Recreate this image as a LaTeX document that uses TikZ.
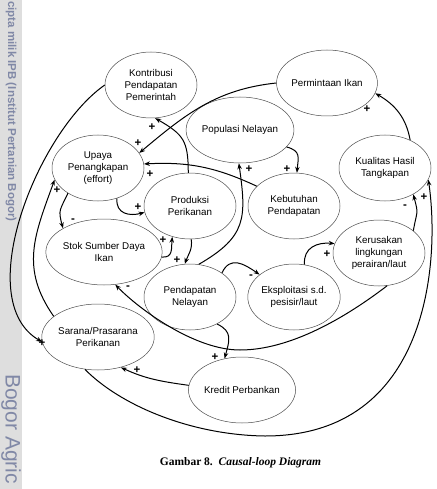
\documentclass[tikz,border=0pt]{standalone}
\usepackage{fontspec}
\setmainfont{Liberation Sans}
\newfontfamily\serifcap{Liberation Serif}
\usetikzlibrary{shapes.geometric,arrows.meta}
\definecolor{wmgray}{RGB}{222,222,222}
\definecolor{wmtext}{RGB}{128,136,166}

\begin{document}
\begin{tikzpicture}[x=1pt, y=1pt,
    var/.style={ellipse, draw=black!70, line width=0.5pt, minimum width=92pt, minimum height=66pt,
      inner sep=0pt, align=center, font=\fontsize{9.8}{11.7}\selectfont},
    link/.style={line width=1pt, -{Stealth[length=6pt, width=4.5pt]}},
    sgn/.style={inner sep=0pt, font=\bfseries\fontsize{11.5}{11.5}\selectfont}]
  \useasboundingbox (0,0) rectangle (436,-489);
  % watermark band
  \fill[wmgray] (0,0) rectangle (22,-489);
  \node[rotate=-90, anchor=west, inner sep=0pt, text=wmtext, font=\bfseries\fontsize{11.5}{12}\selectfont]
    (wmtop) at (11,-1) {cipta milik IPB (Institut Pertanian Bogor)};
  \node[rotate=-90, anchor=west, inner sep=0pt, text=wmtext, font=\fontsize{21}{22}\selectfont]
    (wmbot) at (11,-374) {Bogor Agric};

  % variables
  \node[var] (kpp) at (151,-85)  {Kontribusi\\Pendapatan\\Pemerintah};
  \node[var] (pmi) at (327,-83)  {Permintaan Ikan};
  \node[var] (pop) at (240,-130) {Populasi Nelayan};
  \node[var] (upy) at (98,-168)  {Upaya\\Penangkapan\\(effort)};
  \node[var] (prd) at (190,-206) {Produksi\\Perikanan};
  \node[var] (kbt) at (294,-206) {Kebutuhan\\Pendapatan};
  \node[var] (kht) at (385,-168) {Kualitas Hasil\\Tangkapan};
  \node[var] (stk) at (104,-252) {Stok Sumber Daya\\Ikan};
  \node[var] (krs) at (379,-253) {Kerusakan\\lingkungan\\perairan/laut};
  \node[var] (pdn) at (190,-297) {Pendapatan\\Nelayan};
  \node[var] (eks) at (294,-297) {Eksploitasi s.d.\\pesisir/laut};
  \node[var] (spp) at (98,-337)  {Sarana/Prasarana\\Perikanan};
  \node[var] (krd) at (242,-390) {Kredit Perbankan};

  % turning points of the long loops
  \coordinate (outbot) at (265,-436);
  \coordinate (midbot) at (240,-350);

  % links
  \draw[link] (pmi.180) to[out=186, in=40] (upy.20);
  \draw[link] (kpp.180) to[out=215, in=150, looseness=0.8] (spp.185);
  \draw[link] (spp.155) to[out=125, in=250, looseness=1.1] (upy.195);
  \draw[link] (spp.248) .. controls (120,-405) and (190,-435) .. (outbot)
              .. controls (430,-436) and (440,-260) .. (kht.345);
  \draw[link] (kht.48) to[out=100, in=-30] (pmi.348);
  \draw[link] (prd.93) to[out=90, in=-30, looseness=1.3] (kpp.277);
  \draw[link] (kbt.152) to[out=155, in=3] (upy.5);
  \draw[link] (upy.302) to[out=265, in=195, looseness=1.3] (prd.188);
  \draw[link] (upy.220) to[out=245, in=105, looseness=1.4] (stk.150);
  \draw[link] (stk.355) to[out=-5, in=265, looseness=1.3] (prd.240);
  \draw[link] (prd.272) to[out=-80, in=70] (pdn.99);
  \draw[link] (pdn.75) to[out=30, in=278, looseness=1.3] (pop.268);
  \draw[link] (pop.340) to[out=-15, in=85, looseness=1.4] (kbt.85);
  \draw[link] (pdn.37) to[out=65, in=145, looseness=1.3] (eks.147);
  \draw[link] (eks.72) to[out=95, in=175, looseness=1.2] (krs.168);
  \draw[link] (krs.33) to[out=80, in=285, looseness=1.5] (kht.317);
  \draw[link] (krs.284) .. controls (345,-318) and (290,-350) .. (midbot)
              .. controls (195,-350) and (140,-310) .. (stk.289);
  \draw[link] (pdn.315) to[out=-25, in=75, looseness=1.3] (krd.119);
  \draw[link] (krd.175) to[out=172, in=335] (spp.307);

  % polarities
  \node[sgn] (p1)  at (138,-143) {+};
  \node[sgn] (p2)  at (42,-343)  {+};
  \node[sgn] (p3)  at (57,-190)  {+};
  \node[sgn] (p4)  at (424,-197) {+};
  \node[sgn] (p5)  at (367,-109) {+};
  \node[sgn] (p6)  at (152,-127) {+};
  \node[sgn] (p7)  at (150,-174) {+};
  \node[sgn] (p8)  at (138,-207) {+};
  \node[sgn] (p9)  at (73,-221)  {-};
  \node[sgn] (p10) at (163,-240) {+};
  \node[sgn] (p11) at (177,-260) {+};
  \node[sgn] (p12) at (249,-169) {+};
  \node[sgn] (p13) at (287,-169) {+};
  \node[sgn] (p14) at (251,-277) {-};
  \node[sgn] (p15) at (327,-254) {+};
  \node[sgn] (p16) at (405,-207) {-};
  \node[sgn] (p17) at (128,-288) {-};
  \node[sgn] (p18) at (215,-357) {+};
  \node[sgn] (p19) at (137,-370) {+};

  % caption
  \node[font=\serifcap\bfseries\fontsize{11.5}{13}\selectfont] (cap) at (240.5,-463)
    {Gambar 8.\hspace{0.5em}\textit{Causal-loop Diagram}};
\end{tikzpicture}
\end{document}
